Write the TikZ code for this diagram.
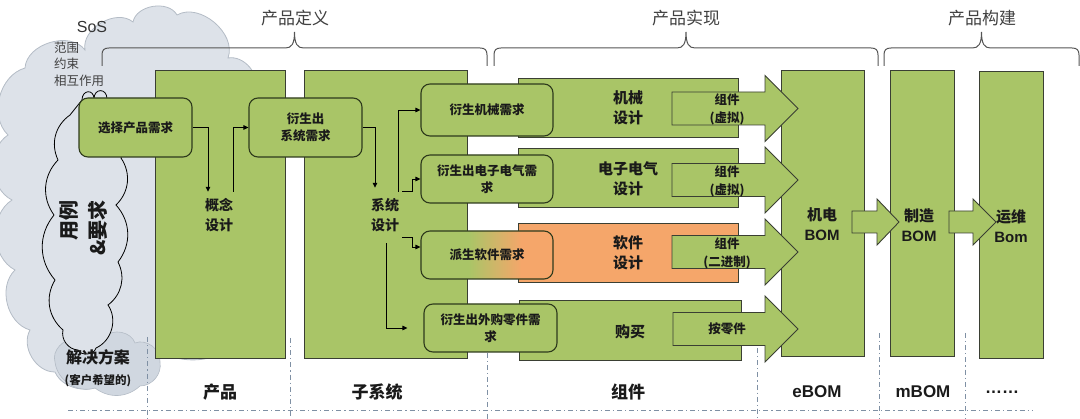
\documentclass[tikz,border=0pt]{standalone}
\usepackage{fontspec}
\setmainfont{Noto Sans CJK SC}
\newfontfamily\lat{Liberation Sans}
\usetikzlibrary{arrows.meta,calc}
\definecolor{grn}{HTML}{A9C567}
\definecolor{org}{HTML}{F5A66A}
\definecolor{edge}{HTML}{3A3F33}
\definecolor{bedge}{HTML}{2E3A1C}
\definecolor{cloudf}{HTML}{DDE2E9}
\definecolor{cloude}{HTML}{B4BCC6}
\definecolor{cloudb}{HTML}{D0D7E0}
\definecolor{sep}{HTML}{7F90A4}
\definecolor{txt}{HTML}{1A1A1A}
\definecolor{brc}{HTML}{555555}
\pgfdeclarehorizontalshading{grnorg}{100bp}{color(0bp)=(grn); color(43bp)=(grn); color(63bp)=(org); color(100bp)=(org)}
\newcommand\mybrace[2]{%
  \pgfmathsetmacro\bmid{(#1+#2)/2}%
  \draw[brc line] (#1,66) -- (#1,55) .. controls (#1,50) and (#1+2,48) .. (#1+7,48) -- (\bmid-9,48) .. controls (\bmid-3,48) and (\bmid,44) .. (\bmid,32) .. controls (\bmid,44) and (\bmid+3,48) .. (\bmid+9,48) -- (#2-7,48) .. controls (#2-2,48) and (#2,50) .. (#2,55) -- (#2,66);
}
\tikzset{
  col/.style={draw=edge, line width=0.8pt, fill=grn},
  rbox/.style={draw=bedge, line width=1.1pt, rounded corners=9pt, fill=grn, inner sep=0pt, align=center, text=txt, font=\fontsize{12.5}{17}\selectfont\bfseries},
  conn/.style={draw=black, line width=0.9pt, -{Triangle[length=5pt,width=4.5pt]}},
  lbl/.style={inner sep=0pt, align=center, text=txt, font=\fontsize{15}{20}\selectfont\bfseries},
  sml/.style={inner sep=0pt, align=center, text=txt, font=\fontsize{12.5}{18}\selectfont\bfseries},
  bot/.style={inner sep=0pt, text=txt, font=\fontsize{17}{20}\selectfont\bfseries},
  ttl/.style={inner sep=0pt, text=black!75, font=\fontsize{17}{20}\selectfont},
  sepline/.style={draw=sep, line width=0.9pt, dash pattern=on 5pt off 3pt on 1.2pt off 3pt},
  blk/.style={draw=edge, line width=0.9pt, fill=grn, line join=miter},
  brc line/.style={draw=brc, line width=1pt},
}
\begin{document}
\begin{tikzpicture}[x=1pt,y=-1pt]
\useasboundingbox (0,0) rectangle (1080,419);
% ---------- clouds ----------
\path[fill=cloudf, draw=cloude, line width=0.8pt]
  (25,68) to[bend left=70] (85,50) to[bend left=70] (133,22) to[bend left=70] (177,15)
  to[bend left=70] (228,58) to[bend left=60] (255,90) to[bend left=40] (270,200)
  to[bend left=30] (250,330) to[bend left=40] (160,352) to[bend left=50] (110,378)
  to[bend left=60] (55,372) to[bend left=60] (30,330) to[bend left=60] (15,270)
  to[bend left=60] (12,200) to[bend left=60] (8,135) to[bend left=60] (25,68) -- cycle;
\path[fill=cloudb, draw=cloude, line width=0.6pt]
  (55,362) to[bend left=60] (75,340) to[bend left=60] (105,337) to[bend left=60] (135,343)
  to[bend left=60] (160,362) to[bend left=50] (140,386) to[bend left=40] (95,388)
  to[bend left=50] (55,362) -- cycle;
\path[fill=cloudf, draw=black, line width=0.8pt]
  (82,100) to[out=90,in=90,looseness=2.2] (94,99) to[out=90,in=90,looseness=2.2] (107,99)
  -- (130,120) -- (121,158) to[bend left=40] (116,205) to[bend left=40] (118,262)
  to[bend left=40] (108,305) to[bend left=50] (96,348) to[bend left=70] (78,350)
  to[bend left=50] (63,330) to[bend left=40] (55,280) to[bend left=40] (54,215)
  to[bend left=40] (58,160) to[bend left=40] (70,115) -- (82,100) -- cycle;
\node[inner sep=0pt, text=black!80, font=\lat\fontsize{16}{18}\selectfont] (sos) at (92,27) {SoS};
\node[inner sep=0pt, anchor=west, align=left, text=black!75, font=\fontsize{12.5}{16.5}\selectfont] (scope) at (54,64) {范围\\约束\\相互作用};
\node[inner sep=0pt, rotate=90, align=right, text=txt, font=\fontsize{20}{29}\selectfont\bfseries] (usecase) at (83,228) {用例\\\&要求};
\node[inner sep=0pt, text=txt, font=\fontsize{16}{18}\selectfont\bfseries] (sol) at (98,357) {解决方案};
\node[inner sep=0pt, text=txt, font=\fontsize{11.5}{14}\selectfont\bfseries] (solsub) at (98,381) {(客户希望的)};
% ---------- columns and rows ----------
\path[col] (155,70) rectangle (285,358);
\path[col] (304,70) rectangle (467,358);
\path[col] (518,78) rectangle (738,137);
\path[col] (518,148) rectangle (738,207);
\path[col, fill=org] (518,223) rectangle (738,282);
\path[col] (519,300) rectangle (741,360);
\path[col] (781,70) rectangle (864,356);
\path[col] (890,70) rectangle (954,356);
\path[col] (979,71) rectangle (1043,358);
% ---------- braces ----------
\mybrace{102}{487}
\mybrace{494}{878}
\mybrace{884}{1079}
\node[ttl] (tdef) at (295,18) {产品定义};
\node[ttl] (timp) at (686,18) {产品实现};
\node[ttl] (tbld) at (982,18) {产品构建};
% ---------- rounded boxes ----------
\node[rbox, minimum width=113pt, minimum height=59pt] (sel) at (135.5,127.5) {选择产品需求};
\node[rbox, minimum width=113pt, minimum height=59pt] (sysreq) at (305.5,127.5) {衍生出\\系统需求};
\node[rbox, minimum width=132pt, minimum height=52pt] (mech) at (487,110) {衍生机械需求};
\node[rbox, minimum width=132pt, minimum height=48pt] (elec) at (487,179) {衍生出电子电气需\\求};
\node[rbox, fill=none, shade, shading=grnorg, minimum width=132pt, minimum height=48pt] (sw) at (487,255) {派生软件需求};
\node[rbox, minimum width=133pt, minimum height=48pt] (buy) at (490.5,328) {衍生出外购零件需\\求};
% ---------- block arrows ----------
\draw[blk] (672,92) -- (765,92) -- (765,75.5) -- (798,108.5) -- (765,141.5) -- (765,125) -- (672,125) -- cycle;
\draw[blk] (672,163.5) -- (765,163.5) -- (765,147) -- (798,180) -- (765,213) -- (765,196.5) -- (672,196.5) -- cycle;
\draw[blk] (672,235.5) -- (765,235.5) -- (765,219) -- (798,252) -- (765,285) -- (765,268.5) -- (672,268.5) -- cycle;
\draw[blk] (673,312.5) -- (765,312.5) -- (765,296) -- (798,329) -- (765,362) -- (765,345.5) -- (673,345.5) -- cycle;
\draw[blk] (852,211) -- (877,211) -- (877,199) -- (899,222) -- (877,245) -- (877,233) -- (852,233) -- cycle;
\draw[blk] (949,211) -- (973,211) -- (973,199) -- (996,222) -- (973,245) -- (973,233) -- (949,233) -- cycle;
% ---------- labels ----------
\node[lbl] (mechd) at (628,108) {机械\\设计};
\node[lbl] (elecd) at (628,179) {电子电气\\设计};
\node[lbl] (swd) at (628,253) {软件\\设计};
\node[lbl] (buyd) at (630,332) {购买};
\node[sml] (a1) at (727,109) {组件\\(虚拟)};
\node[sml] (a2) at (727,181) {组件\\(虚拟)};
\node[sml] (a3) at (727,253) {组件\\(二进制)};
\node[sml] (a4) at (727,329) {按零件};
\node[lbl] (ebomt) at (822,224) {机电\\{\lat\bfseries BOM}};
\node[lbl] (mbomt) at (919,225) {制造\\{\lat\bfseries BOM}};
\node[lbl] (obomt) at (1011,226) {运维\\{\lat\bfseries Bom}};
\node[lbl, font=\fontsize{14}{20}\selectfont\bfseries, minimum width=30pt, minimum height=46pt] (concept) at (219,215) {概念\\设计};
\node[lbl, font=\fontsize{14}{20}\selectfont\bfseries, minimum width=34pt, minimum height=46pt] (sysdesign) at (385,215) {系统\\设计};
% ---------- connectors ----------
\draw[conn] (sel.east) -| ([xshift=-11pt]concept.north);
\draw[conn] ([xshift=14pt]concept.north) |- (sysreq.west);
\draw[conn] (sysreq.east) -| ([xshift=-10pt,yshift=4pt]sysdesign.north);
\draw[conn] ([xshift=-4pt]sysdesign.north east) |- (mech.west);
\draw[conn] (sysdesign.north east) -- ++(10,0) |- (elec.west);
\draw[conn] ([yshift=1pt]sysdesign.south east) -- ++(10,0) |- ([yshift=8pt]sw.west);
\draw[conn] ([xshift=1pt,yshift=-5pt]sysdesign.south) |- ([xshift=-16pt]buy.west);
% ---------- separators ----------
\draw[sepline] (68,410) -- (1032,410);
\draw[sepline] (147,337) -- (147,419);
\draw[sepline] (290,338) -- (290,419);
\draw[sepline] (487,353) -- (487,419);
\draw[sepline] (757,348) -- (757,419);
\draw[sepline] (879,333) -- (879,419);
\draw[sepline] (965,333) -- (965,419);
% ---------- bottom labels ----------
\node[bot] (b1) at (220,392) {产品};
\node[bot] (b2) at (377,392) {子系统};
\node[bot] (b3) at (628,392) {组件};
\node[bot, font=\lat\fontsize{17}{20}\selectfont\bfseries] (b4) at (817,392) {eBOM};
\node[bot, font=\lat\fontsize{17}{20}\selectfont\bfseries] (b5) at (923,392) {mBOM};
\node[bot, font=\lat\fontsize{17}{20}\selectfont\bfseries] (b6) at (1002,392) {……};
\end{tikzpicture}
\end{document}
